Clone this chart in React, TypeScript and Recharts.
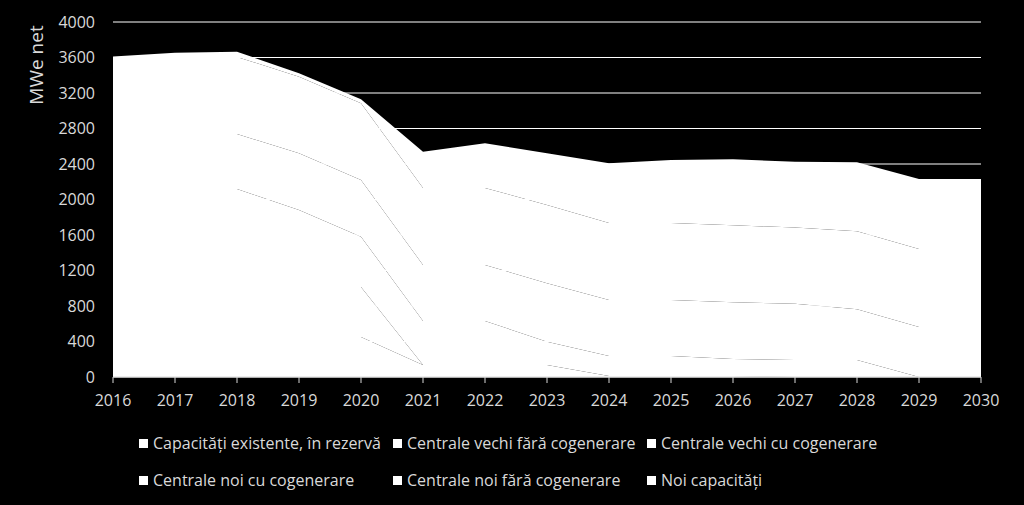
import { AreaChart, Area, XAxis, YAxis, CartesianGrid } from 'recharts';

/* ── Data ─────────────────────────────────────────────────────────────────── */

const years = [
  '2016', '2017', '2018', '2019', '2020', '2021', '2022', '2023',
  '2024', '2025', '2026', '2027', '2028', '2029', '2030',
];

// stacked bottom -> top, same order as the legend
const seriesNames = [
  'Capacități existente, în rezervă',
  'Centrale vechi fără cogenerare',
  'Centrale vechi cu cogenerare',
  'Centrale noi cu cogenerare',
  'Centrale noi fără cogenerare',
  'Noi capacități',
];

const reserve = [451, 451, 451, 451, 451, 135, 135, 135, 11, 11, 11, 0, 0, 0, 0];
const oldNoChp = [563, 563, 563, 563, 563, 0, 0, 0, 0, 0, 0, 0, 0, 0, 0];
const oldChp = [1104, 1104, 1104, 868, 567, 496, 496, 263, 226, 226, 192, 192, 192, 0, 0];
const newChp = [620, 620, 620, 639, 639, 631, 631, 658, 631, 631, 638, 634, 571, 563, 563];
const newNoChp = [868, 868, 868, 863, 864, 868, 868, 882, 867, 867, 868, 859, 878, 879, 879];
const newCapacity = [4, 48, 59, 38, 45, 409, 503, 583, 673, 710, 744, 741, 779, 789, 789];

const yTicks = [0, 400, 800, 1200, 1600, 2000, 2400, 2800, 3200, 3600, 4000];

const seriesValues = [reserve, oldNoChp, oldChp, newChp, newNoChp, newCapacity];
const keys = ['s1', 's2', 's3', 's4', 's5', 's6'];

const data = years.map((year, i) => {
  const row: Record<string, string | number> = { year };
  keys.forEach((k, j) => {
    row[k] = seriesValues[j][i];
  });
  return row;
});

/* ── Component ────────────────────────────────────────────────────────────── */

const textColor = '#d9d9d9';
const font = '"Open Sans", sans-serif';

export default function App() {
  return (
    <div
      style={{
        position: 'absolute',
        left: 0,
        top: 0,
        width: 1024,
        height: 505,
        background: '#000',
        fontFamily: font,
        overflow: 'hidden',
      }}
    >
      <AreaChart
        width={1024}
        height={505}
        data={data}
        margin={{ top: 22, right: 43, bottom: 98, left: 0 }}
      >
        <CartesianGrid horizontal vertical={false} stroke="#ffffff" strokeWidth={1} />
        <XAxis
          dataKey="year"
          height={30}
          tick={{ fill: textColor, fontSize: 16 }}
          tickSize={6}
          tickMargin={12}
          tickLine={{ stroke: textColor }}
          axisLine={{ stroke: textColor }}
          interval={0}
        />
        <YAxis
          width={113}
          domain={[0, 4000]}
          ticks={yTicks}
          tick={{ fill: textColor, fontSize: 16 }}
          tickSize={6}
          tickMargin={12}
          tickLine={false}
          axisLine={false}
          interval={0}
        />
        {keys.map((k, j) => (
          <Area
            key={k}
            type="linear"
            dataKey={k}
            name={seriesNames[j]}
            stackId="1"
            fill="#ffffff"
            fillOpacity={1}
            stroke="none"
            dot={false}
            activeDot={false}
            isAnimationActive={false}
          />
        ))}
      </AreaChart>

      {/* axis title */}
      <div
        style={{
          position: 'absolute',
          left: 36,
          top: 65,
          transform: 'translate(-50%, -50%) rotate(-90deg)',
          color: textColor,
          fontSize: 19,
          whiteSpace: 'nowrap',
          lineHeight: 1,
        }}
      >
        MWe net
      </div>

      {/* legend, two rows of three */}
      {seriesNames.map((name, i) => (
        <div
          key={name}
          style={{
            position: 'absolute',
            left: 139 + (i % 3) * 254,
            top: i < 3 ? 443 : 480,
            transform: 'translateY(-50%)',
            display: 'flex',
            alignItems: 'center',
            color: textColor,
            fontSize: 16,
            whiteSpace: 'nowrap',
            lineHeight: 1,
          }}
        >
          <span style={{ width: 9, height: 9, background: '#ffffff', marginRight: 5 }} />
          {name}
        </div>
      ))}
    </div>
  );
}
